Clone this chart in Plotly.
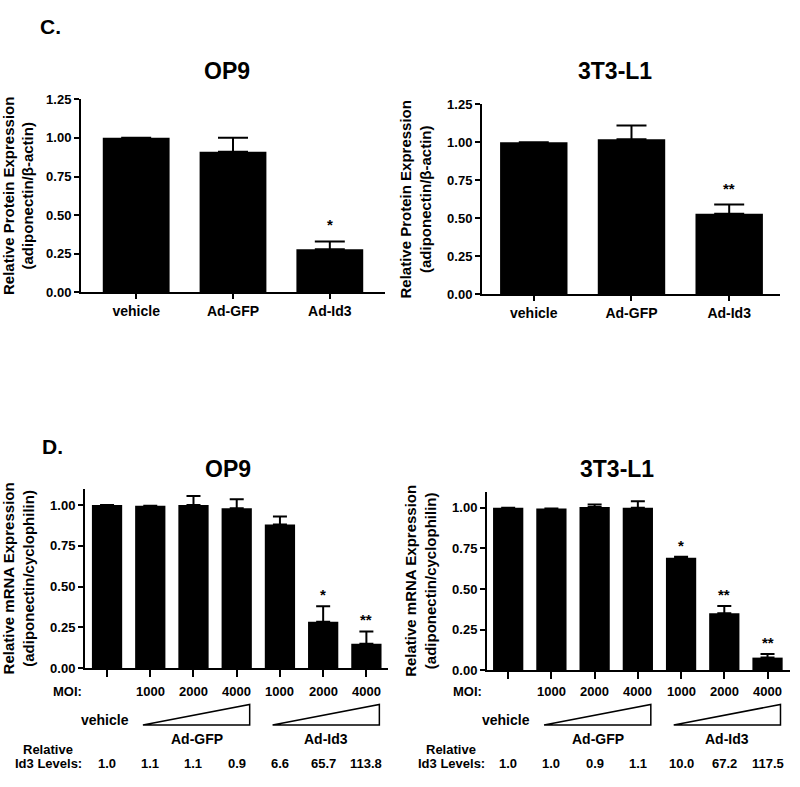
import plotly.graph_objects as go

# ---------------- data ----------------
top_cats = ["vehicle", "Ad-GFP", "Ad-Id3"]
op9_protein = [1.00, 0.91, 0.28]
op9_protein_err = [0.0, 0.09, 0.05]
op9_protein_sig = ["", "", "*"]
l1_protein = [1.00, 1.02, 0.53]
l1_protein_err = [0.0, 0.09, 0.06]
l1_protein_sig = ["", "", "**"]

mrna_cats = ["vehicle", "GFP-1000", "GFP-2000", "GFP-4000", "Id3-1000", "Id3-2000", "Id3-4000"]
moi_labels = ["", "1000", "2000", "4000", "1000", "2000", "4000"]
op9_mrna = [1.00, 0.995, 1.00, 0.98, 0.88, 0.285, 0.15]
op9_mrna_err = [0.0, 0.0, 0.055, 0.055, 0.05, 0.095, 0.075]
op9_mrna_sig = ["", "", "", "", "", "*", "**"]
op9_id3 = ["1.0", "1.1", "1.1", "0.9", "6.6", "65.7", "113.8"]
l1_mrna = [1.00, 0.995, 1.005, 1.00, 0.693, 0.35, 0.077]
l1_mrna_err = [0.0, 0.0, 0.015, 0.04, 0.005, 0.045, 0.022]
l1_mrna_sig = ["", "", "", "", "*", "**", "**"]
l1_id3 = ["1.0", "1.0", "0.9", "1.1", "10.0", "67.2", "117.5"]

W, H = 800, 787
FONT = "Liberation Sans, Arial, sans-serif"


def px(x):
    return x / W


def py(y):
    return 1 - y / H


fig = go.Figure()

panels = [
    ("x", "y", top_cats, op9_protein, op9_protein_err, op9_protein_sig, 15, 0.69, 6),
    ("x2", "y2", top_cats, l1_protein, l1_protein_err, l1_protein_sig, 15, 0.69, 6),
    ("x3", "y3", mrna_cats, op9_mrna, op9_mrna_err, op9_mrna_sig, 7, 0.70, 1),
    ("x4", "y4", mrna_cats, l1_mrna, l1_mrna_err, l1_mrna_sig, 7, 0.70, 1),
]

annotations = []
for xa, ya, cats, vals, errs, sig, cap, bw, sshift in panels:
    fig.add_trace(go.Bar(
        x=cats, y=vals, xaxis=xa, yaxis=ya, width=bw,
        marker=dict(color="black", line=dict(width=0)),
        error_y=dict(type="data", symmetric=False, array=errs,
                     arrayminus=[0] * len(errs), color="black",
                     thickness=2, width=cap),
        showlegend=False,
    ))
    for c, v, e, s in zip(cats, vals, errs, sig):
        if s:
            annotations.append(dict(
                x=c, y=v + e, xref=xa, yref=ya, text=s, showarrow=False,
                xanchor="center", yanchor="bottom", yshift=sshift,
                font=dict(size=15)))

axis_common = dict(showline=True, linecolor="black", linewidth=2,
                   showgrid=False, zeroline=False, fixedrange=True)
yax_common = dict(axis_common, ticks="outside", ticklen=5, tickwidth=2,
                  tickcolor="black", tickformat=".2f", dtick=0.25,
                  tickfont=dict(size=13))
xtop_common = dict(axis_common, ticks="outside", ticklen=5, tickwidth=2,
                   tickcolor="black", tickfont=dict(size=14))
xbot_common = dict(axis_common, ticks="outside", ticklen=7, tickwidth=2,
                   tickcolor="black", showticklabels=False)
ttl_font = dict(size=15)

layout = dict(
    width=W, height=H, margin=dict(l=0, r=0, t=0, b=0),
    paper_bgcolor="white", plot_bgcolor="white",
    font=dict(family=FONT, size=13, color="black", weight="bold"),
    xaxis=dict(xtop_common, domain=[px(81), px(385)], range=[-0.57, 2.57], anchor="y"),
    yaxis=dict(yax_common, domain=[py(291), py(94)], range=[0, 1.25], anchor="x",
               title=dict(text="Relative Protein Expression<br>(adiponectin/β-actin)",
                          font=ttl_font, standoff=12)),
    xaxis2=dict(xtop_common, domain=[px(482), px(780)], range=[-0.53, 2.52], anchor="y2"),
    yaxis2=dict(yax_common, domain=[py(293), py(99)], range=[0, 1.25], anchor="x2",
                title=dict(text="Relative Protein Expression<br>(adiponectin/β-actin)",
                           font=ttl_font, standoff=12)),
    xaxis3=dict(xbot_common, domain=[px(85), px(388)], range=[-0.51, 6.5], anchor="y3"),
    yaxis3=dict(yax_common, domain=[py(674), py(491)], range=[0, 1.1], anchor="x3",
                title=dict(text="Relative mRNA Expression<br>(adiponectin/cyclophilin)",
                           font=ttl_font, standoff=12)),
    xaxis4=dict(xbot_common, domain=[px(487), px(790)], range=[-0.49, 6.52], anchor="y4"),
    yaxis4=dict(yax_common, domain=[py(676), py(494)], range=[0, 1.1], anchor="x4",
                title=dict(text="Relative mRNA Expression<br>(adiponectin/cyclophilin)",
                           font=ttl_font, standoff=12)),
)


def paper_text(txt, x, y, size=13):
    return dict(x=px(x), y=py(y), xref="paper", yref="paper", text=txt,
                showarrow=False, xanchor="center", yanchor="middle",
                font=dict(size=size))


# panel letters and titles
for txt, x, y, sz in [("C.", 50, 20, 21), ("D.", 52, 448, 21),
                      ("OP9", 227, 65, 23), ("3T3-L1", 615, 65, 23),
                      ("OP9", 228, 471, 23), ("3T3-L1", 617, 471, 23)]:
    annotations.append(paper_text(txt, x, y, sz))

shapes = []
for xa, id3, moi_x, veh_x, rel_x in [("x3", op9_id3, 67, 105, 48),
                                     ("x4", l1_id3, 467, 506, 451)]:
    annotations.append(paper_text("MOI:", moi_x, 698))
    annotations.append(paper_text("vehicle", veh_x, 727, 14))
    annotations.append(paper_text("Relative", rel_x, 757))
    annotations.append(paper_text("Id3 Levels:", rel_x, 771))
    for c, m, lv in zip(mrna_cats, moi_labels, id3):
        if m:
            annotations.append(dict(x=c, y=py(698), xref=xa, yref="paper", text=m,
                                    showarrow=False, xanchor="center",
                                    yanchor="middle", font=dict(size=13)))
        annotations.append(dict(x=c, y=py(771), xref=xa, yref="paper", text=lv,
                                showarrow=False, xanchor="center",
                                yanchor="middle", font=dict(size=13)))
    for first, last, label in [(1, 3, "Ad-GFP"), (4, 6, "Ad-Id3")]:
        x0 = first - 0.17
        x1 = last + 0.3
        shapes.append(dict(type="path", xref=xa, yref="paper",
                           path=f"M {x0},{py(732)} L {x1},{py(732)} L {x1},{py(711)} Z",
                           line=dict(color="black", width=1.5), fillcolor="white"))
        annotations.append(dict(x=(first + last) / 2 + 0.07, y=py(746), xref=xa,
                                yref="paper", text=label, showarrow=False,
                                xanchor="center", yanchor="middle",
                                font=dict(size=14)))

layout["annotations"] = annotations
layout["shapes"] = shapes
fig.update_layout(**layout)
fig.write_html("out.html", config={"displayModeBar": False},
               post_script="document.body.style.margin='0px';")
